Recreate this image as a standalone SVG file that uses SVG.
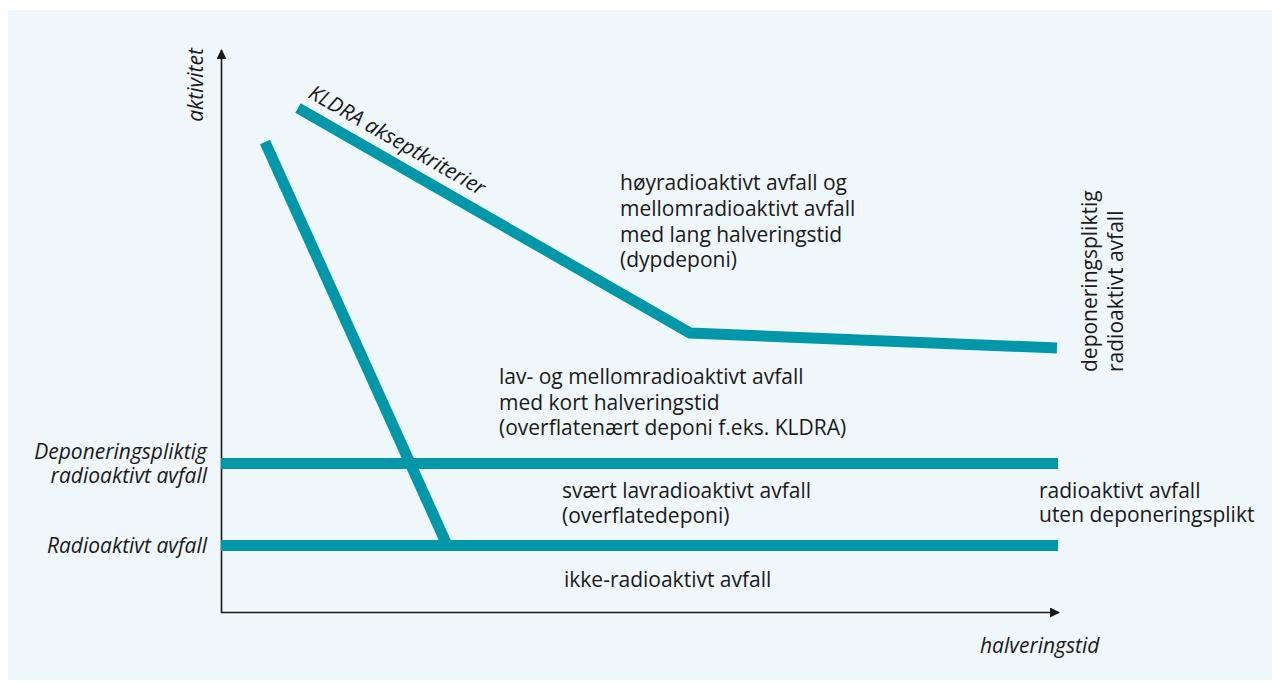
<svg xmlns="http://www.w3.org/2000/svg" width="1272" height="684" viewBox="0 0 1272 684">
  <defs>
    <style>
      .t { font-family: "Open Sans", "Noto Sans", "Liberation Sans", sans-serif; font-size: 21px; fill: #1a1a1a; }
      .i { font-style: italic; }
      .band { stroke: #0097a9; stroke-width: 11; fill: none; stroke-linejoin: miter; }
      .axis { stroke: #1a1a1a; stroke-width: 1.6; fill: none; }
    </style>
    <marker id="arr" viewBox="0 0 10 10" refX="9" refY="5" markerWidth="10" markerHeight="10" markerUnits="userSpaceOnUse" orient="auto">
      <path d="M0,0 L10,5 L0,10 Z" fill="#1a1a1a"/>
    </marker>
  </defs>
  <rect x="0" y="0" width="1272" height="684" fill="#ffffff"/>
  <rect x="8" y="10" width="1264" height="670" fill="#eff7fa"/>

  <g id="connectors">
    <line class="axis" x1="221.5" y1="613" x2="221.5" y2="50" marker-end="url(#arr)"/>
    <line class="axis" x1="221" y1="612.5" x2="1059" y2="612.5" marker-end="url(#arr)"/>
    <line id="line-deponering" class="band" x1="221" y1="463.5" x2="1058" y2="463.5"/>
    <line id="line-radioaktivt" class="band" x1="221" y1="545.5" x2="1058" y2="545.5"/>
    <line id="line-steep" class="band" x1="265" y1="142" x2="447" y2="545"/>
    <polyline id="line-kldra" class="band" points="298,108 690,333 1057,348"/>
  </g>

  <g id="axis-y-label"><text class="t i" text-anchor="middle" transform="translate(203,85) rotate(-90)">aktivitet</text></g>
  <g id="axis-x-label"><text class="t i" x="980" y="653">halveringstid</text></g>

  <g id="label-kldra"><text class="t i" transform="translate(307,97) rotate(29.7)">KLDRA akseptkriterier</text></g>

  <g id="label-deponeringspliktig-left">
    <text class="t i" text-anchor="end" x="207" y="459">Deponeringspliktig</text>
    <text class="t i" text-anchor="end" x="207" y="483">radioaktivt avfall</text>
  </g>
  <g id="label-radioaktivt-left">
    <text class="t i" text-anchor="end" x="207" y="553">Radioaktivt avfall</text>
  </g>

  <g id="region-hoy">
    <text class="t" x="620" y="190">høyradioaktivt avfall og</text>
    <text class="t" x="620" y="216">mellomradioaktivt avfall</text>
    <text class="t" x="620" y="242">med lang halveringstid</text>
    <text class="t" x="620" y="267">(dypdeponi)</text>
  </g>
  <g id="region-lav">
    <text class="t" x="499" y="384">lav- og mellomradioaktivt avfall</text>
    <text class="t" x="499" y="410">med kort halveringstid</text>
    <text class="t" x="499" y="435">(overflatenært deponi f.eks. KLDRA)</text>
  </g>
  <g id="region-svaert">
    <text class="t" x="562" y="498">svært lavradioaktivt avfall</text>
    <text class="t" x="562" y="523">(overflatedeponi)</text>
  </g>
  <g id="region-ikke">
    <text class="t" x="564" y="587">ikke-radioaktivt avfall</text>
  </g>
  <g id="label-uten">
    <text class="t" x="1039" y="498">radioaktivt avfall</text>
    <text class="t" x="1039" y="522">uten deponeringsplikt</text>
  </g>
  <g id="label-deponeringspliktig-right">
    <text class="t" transform="translate(1097,372) rotate(-90)">deponeringspliktig</text>
    <text class="t" transform="translate(1123,372) rotate(-90)">radioaktivt avfall</text>
  </g>
</svg>
